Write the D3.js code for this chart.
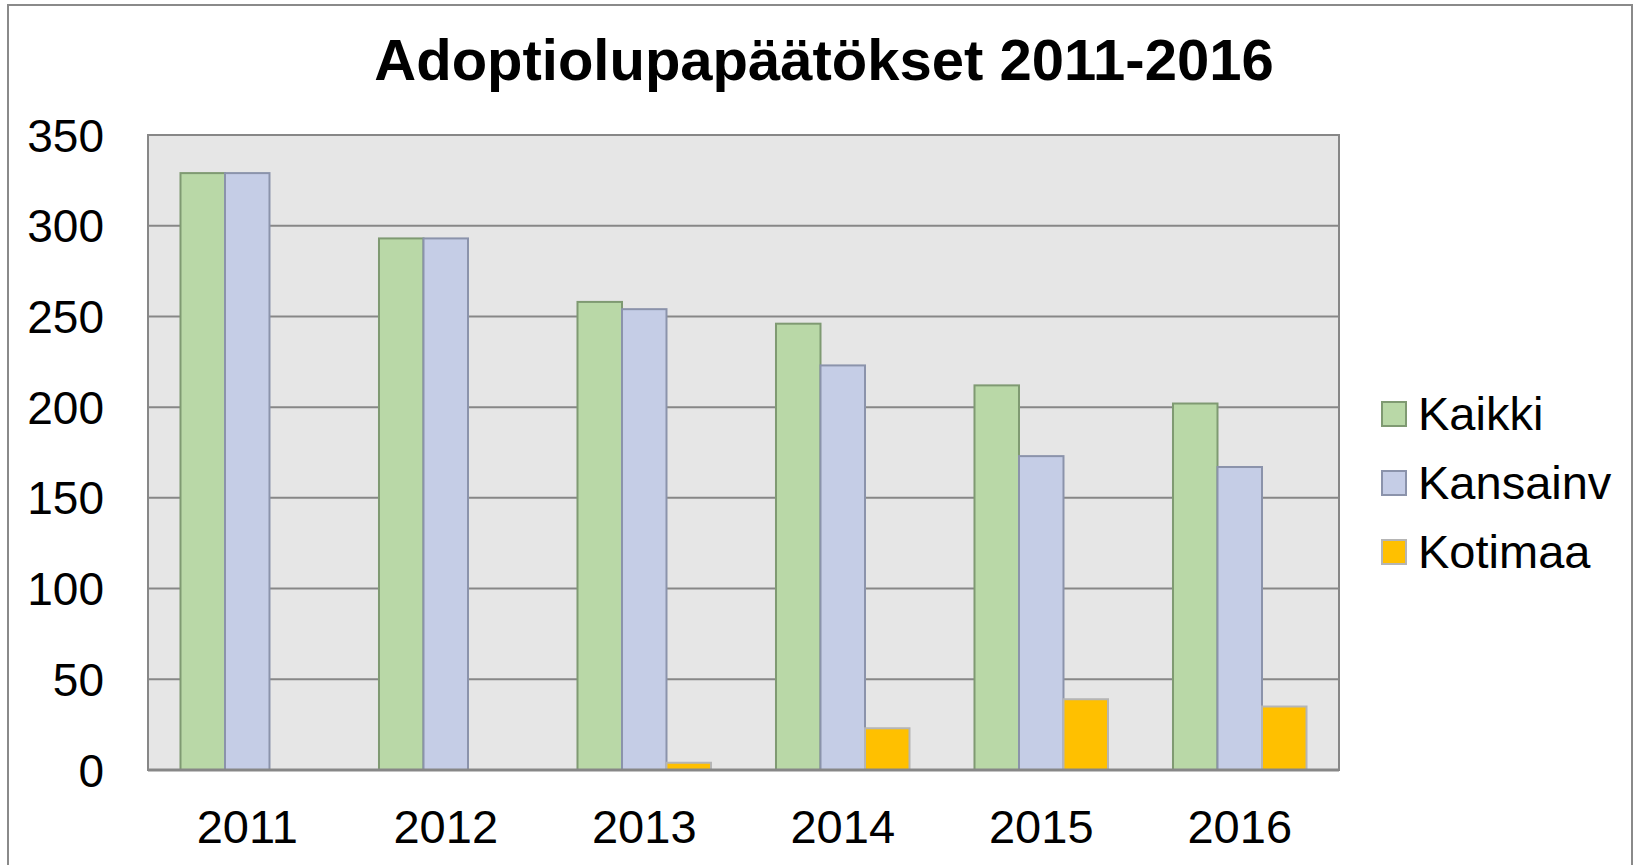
<!DOCTYPE html>
<html>
<head>
<meta charset="utf-8">
<script src="https://cdn.jsdelivr.net/npm/d3@7"></script>
<style>
  body { margin: 0; background: #fff; }
  svg { display: block; font-family: "Liberation Sans", Arial, sans-serif; }
  .axis text { fill: #000; }
</style>
</head>
<body>
<script>
var years = ["2011", "2012", "2013", "2014", "2015", "2016"];
var series = ["Kaikki", "Kansainv", "Kotimaa"];
var kaikki = [329, 293, 258, 246, 212, 202];
var kansainv = [329, 293, 254, 223, 173, 167];
var kotimaa = [0, 0, 4, 23, 39, 35];
var yTicks = [0, 50, 100, 150, 200, 250, 300, 350];

var fills = { Kaikki: "#b9d8a7", Kansainv: "#c5cde6", Kotimaa: "#ffc000" };
var strokes = { Kaikki: "#7f9a72", Kansainv: "#8b93ab", Kotimaa: "#b5b5b5" };

var width = 1634,
    height = 865;
var plot = { left: 148, top: 135, right: 1339, bottom: 770 };

var svg = d3.select("body").append("svg")
    .attr("width", width)
    .attr("height", height);

// outer frame
svg.append("rect")
    .attr("x", 8).attr("y", 5)
    .attr("width", 1624).attr("height", 870)
    .attr("fill", "#fff")
    .attr("stroke", "#8a8a8a")
    .attr("stroke-width", 2);

svg.append("text")
    .attr("x", 824)
    .attr("y", 80)
    .attr("text-anchor", "middle")
    .attr("font-size", "58px")
    .attr("font-weight", "bold")
    .text("Adoptiolupapäätökset 2011-2016");

var x0 = d3.scaleBand()
    .domain(years)
    .range([plot.left, plot.right]);

var x1 = d3.scaleBand()
    .domain(series)
    .range([0, x0.bandwidth()])
    .paddingOuter(0.73);

var y = d3.scaleLinear()
    .domain([0, 350])
    .range([plot.bottom, plot.top]);

// plot background
svg.append("rect")
    .attr("x", plot.left).attr("y", plot.top)
    .attr("width", plot.right - plot.left)
    .attr("height", plot.bottom - plot.top)
    .attr("fill", "#e6e6e6");

// gridlines
svg.append("g")
    .selectAll("line")
    .data(yTicks)
    .enter().append("line")
    .attr("x1", plot.left).attr("x2", plot.right)
    .attr("y1", function(d) { return y(d); })
    .attr("y2", function(d) { return y(d); })
    .attr("stroke", "#878787")
    .attr("stroke-width", 2);

svg.append("rect")
    .attr("x", plot.left).attr("y", plot.top)
    .attr("width", plot.right - plot.left)
    .attr("height", plot.bottom - plot.top)
    .attr("fill", "none")
    .attr("stroke", "#878787")
    .attr("stroke-width", 2);

var rows = years.map(function(yr, i) {
  return { year: yr, values: { Kaikki: kaikki[i], Kansainv: kansainv[i], Kotimaa: kotimaa[i] } };
});

var groups = svg.append("g")
    .selectAll("g")
    .data(rows)
    .enter().append("g")
    .attr("transform", function(d) { return "translate(" + x0(d.year) + ",0)"; });

groups.selectAll("rect")
    .data(function(d) {
      return series.map(function(s) { return { key: s, value: d.values[s] }; })
        .filter(function(v) { return v.value > 0; });
    })
    .enter().append("rect")
    .attr("x", function(d) { return x1(d.key); })
    .attr("width", x1.bandwidth())
    .attr("y", function(d) { return y(d.value); })
    .attr("height", function(d) { return y(0) - y(d.value); })
    .attr("fill", function(d) { return fills[d.key]; })
    .attr("stroke", function(d) { return strokes[d.key]; })
    .attr("stroke-width", 2);

// baseline on top of bars
svg.append("line")
    .attr("x1", plot.left).attr("x2", plot.right)
    .attr("y1", y(0)).attr("y2", y(0))
    .attr("stroke", "#878787")
    .attr("stroke-width", 3);

var yAxis = svg.append("g")
    .attr("class", "axis")
    .attr("transform", "translate(" + (plot.left - 44) + ",0)")
    .call(d3.axisLeft(y).tickValues(yTicks).tickSize(0).tickPadding(0));
yAxis.select(".domain").remove();
yAxis.selectAll("text").attr("font-size", "46px").attr("dy", "0.35em");

var xAxis = svg.append("g")
    .attr("class", "axis")
    .attr("transform", "translate(0," + plot.bottom + ")")
    .call(d3.axisBottom(x0).tickSize(0).tickPadding(40));
xAxis.select(".domain").remove();
xAxis.selectAll("text").attr("font-size", "47px");

// legend
var legend = svg.append("g")
    .selectAll("g")
    .data(series)
    .enter().append("g")
    .attr("transform", function(d, i) { return "translate(1382," + (414 + i * 69) + ")"; });

legend.append("rect")
    .attr("x", 0).attr("y", -12)
    .attr("width", 24).attr("height", 24)
    .attr("fill", function(d) { return fills[d]; })
    .attr("stroke", function(d) { return strokes[d]; })
    .attr("stroke-width", 2);

legend.append("text")
    .attr("x", 36)
    .attr("dy", "0.35em")
    .attr("font-size", "47px")
    .text(function(d) { return d; });
</script>
</body>
</html>
